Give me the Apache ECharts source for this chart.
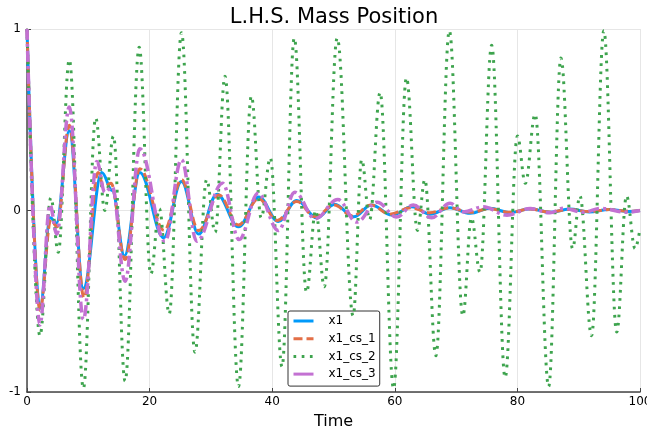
<!DOCTYPE html>
<html>
<head>
<meta charset="utf-8">
<script src="https://cdn.jsdelivr.net/npm/echarts@6/dist/echarts.min.js"></script>
<style>
html,body{margin:0;padding:0;background:#fff;}
#chart{width:647px;height:435px;}
</style>
</head>
<body>
<div id="chart"></div>
<script>
// Extremes (peaks / troughs / shoulders)
const x1T = [0, 2.1, 3.8, 4.8, 6.9, 9.2, 12.2, 13.9, 15.9, 18.4, 22.3, 25.2, 28.0, 31.0, 34.5, 37.8, 41.0, 44.0, 47.3, 50.2, 53.3, 56.2, 59.5, 62.8, 65.8, 69.0, 72.3, 75.5, 78.8, 82.1, 85.3, 88.5, 91.7, 95.0, 98.2, 100];
const x1V = [1.0, -0.54, -0.04, -0.07, 0.44, -0.43, 0.21, 0.11, -0.25, 0.21, -0.15, 0.16, -0.13, 0.09, -0.09, 0.075, -0.06, 0.055, -0.04, 0.035, -0.035, 0.03, -0.025, 0.02, -0.02, 0.015, -0.015, 0.012, -0.012, 0.01, -0.01, 0.008, -0.008, 0.006, -0.005, 0.0];

const cs1T = [0, 2.1, 3.9, 4.9, 6.9, 9.3, 11.6, 12.5, 13.7, 16.0, 18.4, 22.4, 25.2, 28.0, 31.3, 34.5, 37.8, 40.8, 44.0, 47.0, 50.1, 53.1, 56.1, 59.2, 62.6, 65.7, 69.0, 72.3, 75.5, 78.8, 82.0, 85.2, 88.5, 91.7, 95.0, 98.2, 100];
const cs1V = [1.0, -0.55, -0.05, -0.09, 0.47, -0.48, 0.21, 0.13, 0.15, -0.27, 0.23, -0.11, 0.17, -0.11, 0.085, -0.08, 0.065, -0.055, 0.05, -0.035, 0.03, -0.03, 0.03, -0.02, 0.015, -0.012, 0.015, -0.01, 0.01, -0.01, 0.008, -0.008, 0.006, -0.006, 0.005, -0.004, 0.0];

const cs2T = [0, 2.1, 3.9, 5.1, 6.9, 9.2, 11.2, 12.7, 14.1, 16.0, 18.3, 20.2, 21.6, 23.2, 25.2, 27.4, 29.3, 30.7, 32.3, 34.5, 36.6, 38.2, 39.7, 41.6, 43.6, 45.6, 47.1, 48.5, 50.6, 53.2, 54.6, 55.9, 57.6, 59.8, 61.9, 63.7, 64.9, 66.7, 68.9, 71.1, 72.5, 73.9, 75.8, 78.0, 80.0, 81.3, 82.9, 85.1, 87.1, 89.0, 90.2, 92.1, 94.1, 96.2, 97.8, 99.2, 100];
const cs2V = [1.0, -0.69, 0.07, -0.23, 0.83, -0.98, 0.51, 0.0, 0.41, -0.94, 0.90, -0.35, 0.01, -0.57, 0.98, -0.78, 0.17, -0.12, 0.74, -0.97, 0.63, -0.04, 0.29, -0.86, 0.95, -0.45, 0.0, -0.42, 0.95, -0.58, 0.28, -0.05, 0.65, -0.98, 0.73, -0.11, 0.17, -0.80, 0.99, -0.58, -0.04, -0.34, 0.91, -0.92, 0.41, 0.15, 0.53, -0.97, 0.84, -0.21, 0.08, -0.69, 0.99, -0.67, 0.08, -0.21, -0.1];

const cs3T = [0, 2.1, 3.75, 4.85, 6.9, 9.2, 11.4, 12.7, 13.9, 16.0, 18.4, 22.5, 25.2, 27.7, 31.9, 34.6, 37.7, 41.0, 43.7, 47.0, 50.7, 53.8, 57.1, 60.3, 63.0, 66.0, 69.0, 71.2, 74.4, 78.3, 82.1, 85.3, 87.5, 90.8, 93.5, 97.8, 100];
const cs3V = [1.0, -0.63, 0.03, -0.13, 0.57, -0.60, 0.27, 0.10, 0.13, -0.39, 0.34, -0.17, 0.28, -0.17, 0.15, -0.16, 0.095, -0.11, 0.10, -0.045, 0.06, -0.064, 0.046, -0.036, 0.03, -0.04, 0.04, -0.008, 0.02, -0.026, 0.011, -0.013, 0.012, -0.01, 0.012, -0.01, 0.0];

const seriesNames = ['x1', 'x1_cs_1', 'x1_cs_2', 'x1_cs_3'];
const titleText = 'L.H.S. Mass Position';
const xName = 'Time';

function pairs(t, v) { return t.map((x, i) => [x, v[i]]); }

const FONT = 'DejaVu Sans';
const chart = echarts.init(document.getElementById('chart'), null, {renderer: 'canvas'});

const common = {
  type: 'line', showSymbol: false, symbol: 'none',
  smooth: 0.38, smoothMonotone: 'x', animation: false
};

chart.setOption({
  animation: false,
  textStyle: {fontFamily: FONT},
  title: {
    text: titleText, left: 329, top: 2, textAlign: 'center',
    textStyle: {fontFamily: FONT, fontSize: 21, fontWeight: 'normal', color: '#000'}
  },
  grid: {left: 27, right: 7, top: 29, bottom: 43, containLabel: false, outerBoundsMode: 'none'},
  xAxis: {
    type: 'value', min: 0, max: 100, interval: 20,
    name: xName, nameLocation: 'middle', nameGap: 22,
    nameTextStyle: {fontFamily: FONT, fontSize: 16, color: '#000'},
    axisLine: {show: true, onZero: false, lineStyle: {color: '#444', width: 1.5}},
    axisTick: {show: true, inside: true, length: 4, lineStyle: {color: '#444', width: 1}},
    axisLabel: {fontFamily: FONT, fontSize: 12, color: '#000', margin: 4},
    splitLine: {show: true, lineStyle: {color: '#e6e6e6', width: 1}}
  },
  yAxis: {
    type: 'value', min: -1, max: 1, interval: 1,
    axisLine: {show: true, onZero: false, lineStyle: {color: '#444', width: 1.5}},
    axisTick: {show: true, inside: true, length: 4, lineStyle: {color: '#444', width: 1}},
    axisLabel: {fontFamily: FONT, fontSize: 12, color: '#000', margin: 6},
    splitLine: {show: true, lineStyle: {color: '#e6e6e6', width: 1}}
  },
  legend: {
    orient: 'vertical', left: 288, top: 311,
    data: [
      {name: seriesNames[0]},
      {name: seriesNames[1]},
      {name: seriesNames[2]},
      {name: seriesNames[3], lineStyle: {type: 'solid'}}
    ],
    itemWidth: 20, itemHeight: 14, itemGap: 3.7,
    padding: [3, 4, 5, 4],
    backgroundColor: '#fff', borderColor: '#333', borderWidth: 1, borderRadius: 2,
    itemStyle: {opacity: 0},
    lineStyle: {width: 3},
    textStyle: {fontFamily: FONT, fontSize: 12, color: '#000', lineHeight: 14, padding: [0, 0, 0, 10]}
  },
  series: [
    Object.assign({}, common, {
      name: seriesNames[0], data: pairs(x1T, x1V), z: 2,
      lineStyle: {color: '#009AFA', width: 3, type: 'solid'}, itemStyle: {color: '#009AFA'}
    }),
    Object.assign({}, common, {
      name: seriesNames[1], data: pairs(cs1T, cs1V), z: 3,
      lineStyle: {color: '#E36F47', width: 3, type: [9, 4], cap: 'butt'}, itemStyle: {color: '#E36F47'}
    }),
    Object.assign({}, common, {
      name: seriesNames[2], data: pairs(cs2T, cs2V), z: 4,
      lineStyle: {color: '#3EA44E', width: 3, type: [2.7, 5.5], cap: 'butt'}, itemStyle: {color: '#3EA44E'}
    }),
    Object.assign({}, common, {
      name: seriesNames[3], data: pairs(cs3T, cs3V), z: 5,
      lineStyle: {color: '#C371D2', width: 3.5, type: [11, 4, 3, 4], cap: 'butt'}, itemStyle: {color: '#C371D2'}
    })
  ]
});
</script>
</body>
</html>
